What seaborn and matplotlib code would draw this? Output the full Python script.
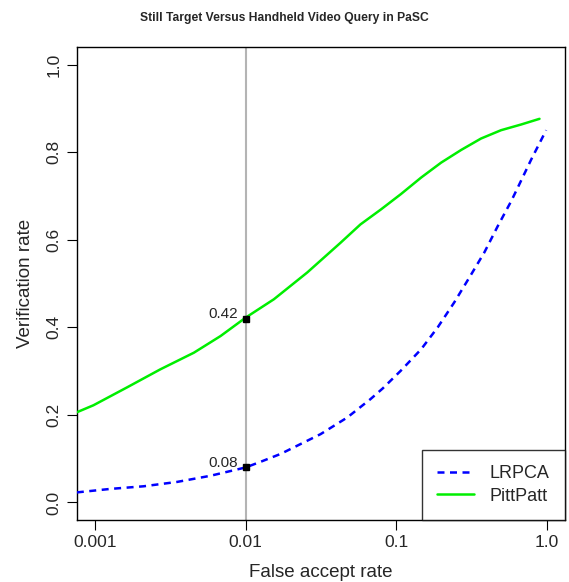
import numpy as np
import pandas as pd
import matplotlib
matplotlib.use("Agg")
import matplotlib.pyplot as plt
import seaborn as sns
from matplotlib.lines import Line2D

# ---- data ----
pittpatt_far = [0.00076, 0.00098, 0.00164, 0.00272, 0.00454, 0.00682, 0.01, 0.0154,
                0.0256, 0.0426, 0.0578, 0.0789, 0.107, 0.146, 0.198, 0.269, 0.364,
                0.494, 0.671, 0.889]
pittpatt_tar = [0.206, 0.222, 0.263, 0.304, 0.342, 0.380, 0.422, 0.464,
                0.525, 0.593, 0.635, 0.669, 0.704, 0.742, 0.776, 0.805, 0.831,
                0.850, 0.863, 0.876]

lrpca_far = [0.00076, 0.00127, 0.00211, 0.00352, 0.00585, 0.01, 0.0126, 0.0171,
             0.0314, 0.0472, 0.0673, 0.0809, 0.107, 0.146, 0.188, 0.242, 0.305,
             0.383, 0.470, 0.577, 0.638, 0.783, 0.984]
lrpca_tar = [0.023, 0.031, 0.037, 0.047, 0.061, 0.080, 0.093, 0.111,
             0.156, 0.194, 0.236, 0.260, 0.301, 0.350, 0.400, 0.457, 0.514,
             0.571, 0.631, 0.688, 0.719, 0.783, 0.850]

marked_far = 0.01
marked_tar = [0.42, 0.08]
marked_labels = ["0.42", "0.08"]

xticks = [0.001, 0.01, 0.1, 1.0]
xtick_labels = ["0.001", "0.01", "0.1", "1.0"]
yticks = [0.0, 0.2, 0.4, 0.6, 0.8, 1.0]
ytick_labels = ["0.0", "0.2", "0.4", "0.6", "0.8", "1.0"]

sns.set_style("white")
plt.rcParams['font.family'] = ['Liberation Sans', 'DejaVu Sans']

fig = plt.figure(figsize=(5.69, 5.82), dpi=100)
ax = fig.add_axes([77/569, 1 - 520/582, (565 - 77)/569, (520 - 47)/582])

ax.axvline(marked_far, color="#b4b4b4", lw=1.5, zorder=1)

df_l = pd.DataFrame({"far": lrpca_far, "tar": lrpca_tar})
df_p = pd.DataFrame({"far": pittpatt_far, "tar": pittpatt_tar})
sns.lineplot(data=df_l, x="far", y="tar", ax=ax, color="#0000ff", lw=1.8,
             estimator=None, sort=False, zorder=3)
ax.lines[-1].set_dashes((2.8, 2.2))
sns.lineplot(data=df_p, x="far", y="tar", ax=ax, color="#00ee00", lw=1.8,
             estimator=None, sort=False, zorder=3)

for v, lab in zip(marked_tar, marked_labels):
    ax.plot([marked_far], [v], marker="s", color="black", markersize=4.5, zorder=5, ls="none")
    ax.annotate(lab, (marked_far, v), xytext=(-5.5, 3.5), textcoords="offset points",
                ha="right", va="center", fontsize=11)

ax.set_xscale("log")
ax.set_xlim(10 ** -3.118, 10 ** 0.118)
ax.set_ylim(-0.04, 1.04)
ax.set_xticks(xticks)
ax.set_xticklabels(xtick_labels)
ax.minorticks_off()
ax.set_yticks(yticks)
ax.set_yticklabels(ytick_labels, rotation=90, va="center")
ax.tick_params(axis="x", direction="out", length=7, width=0.8, color="black",
               labelsize=12.5, pad=4, bottom=True)
ax.tick_params(axis="y", direction="out", length=7, width=0.8, color="black",
               labelsize=12.5, pad=4, left=True)

for s in ax.spines.values():
    s.set_visible(True)
    s.set_color("black")
    s.set_linewidth(1.0)

ax.set_xlabel("False accept rate", fontsize=13.5, labelpad=10)
ax.set_ylabel("Verification rate", fontsize=13.5, labelpad=9)
fig.text(0.5, 1 - 18/582, "Still Target Versus Handheld Video Query in PaSC",
         ha="center", va="center", fontsize=8.7, fontweight="bold")

handles = [Line2D([], [], color="#0000ff", lw=1.8, dashes=(2.8, 2.2)),
           Line2D([], [], color="#00ee00", lw=1.8)]
leg = ax.legend(handles, ["LRPCA", "PittPatt"], loc="lower right", fontsize=13,
                frameon=True, fancybox=False, borderaxespad=0, handlelength=2.0,
                handletextpad=0.9, borderpad=0.85, labelspacing=0.3)
leg.get_frame().set_edgecolor("black")
leg.get_frame().set_linewidth(1.0)

fig.savefig("out.png", dpi=100)
